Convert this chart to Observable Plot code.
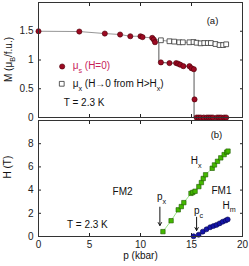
<!DOCTYPE html>
<html><head><meta charset="utf-8">
<script src="https://cdn.jsdelivr.net/npm/d3@7"></script>
<script src="https://cdn.jsdelivr.net/npm/@observablehq/plot@0.6"></script>
<style>body{margin:0;background:#fff;} #c{width:249px;} #c svg{display:block;}</style>
</head><body><div id="c"></div>
<script>
// ---------- data ----------
// panel (a): magnetization vs pressure
const upperRedP = [0, 4.0, 6.5, 8.0, 9.0, 10.0, 10.2, 11.15, 11.3, 11.42];
const upperRedM = [1.50, 1.495, 1.46, 1.443, 1.413, 1.413, 1.398, 1.385, 1.355, 1.31];
const lowerRedP = [12.0, 12.84, 13.5, 13.7, 13.9, 14.2, 14.8, 15.0, 15.23, 15.3];
const lowerRedM = [0.958, 0.946, 0.946, 0.935, 0.918, 0.893, 0.893, 0.858, 0.84, 0.315];
const zeroRedP = [15.5, 15.7, 15.9, 16.2, 16.5, 16.7, 16.9, 17.1, 17.5, 17.7, 17.9, 18.2, 18.4];
const zeroRedM = [0, 0, 0, 0, 0, 0, 0, 0, 0, 0, 0, 0, 0];
const squareP = [12.0, 12.84, 13.3, 13.8, 14.15, 14.8, 15.2, 15.5, 15.9, 16.25, 16.6, 16.9, 17.35, 17.75, 18.1, 18.4];
const squareM = [1.343, 1.326, 1.32, 1.308, 1.308, 1.308, 1.313, 1.30, 1.29, 1.295, 1.295, 1.295, 1.278, 1.26, 1.26, 1.273];
// guide lines drawn through the data
const upperGuideP = [0, 4.0, 6.5, 8.0, 9.0, 10.0, 10.2, 11.15, 11.8, 12.0, 12.84, 13.3, 13.8, 14.15, 14.8, 15.2, 15.5, 15.9, 16.25, 16.6, 16.9, 17.35, 17.75, 18.1, 18.4];
const upperGuideM = [1.50, 1.495, 1.46, 1.443, 1.413, 1.413, 1.398, 1.385, 1.345, 1.343, 1.326, 1.32, 1.308, 1.308, 1.308, 1.313, 1.30, 1.29, 1.295, 1.295, 1.295, 1.278, 1.26, 1.26, 1.273];
const dropGuideP = [11.8, 11.8, 12.0, 12.84, 13.5, 13.7, 13.9, 14.2, 14.8, 15.0, 15.23, 15.25, 15.25, 18.4];
const dropGuideM = [1.345, 0.958, 0.958, 0.946, 0.946, 0.935, 0.918, 0.893, 0.893, 0.858, 0.84, 0.84, 0, 0];

// panel (b): critical fields vs pressure
const hxP = [12.2, 13.0, 13.7, 14.0, 14.25, 14.95, 15.13, 15.35, 15.72, 15.97, 16.15, 16.38, 17.03, 17.25, 17.55, 17.87, 18.2, 18.45, 18.58];
const hxH = [0.42, 1.36, 2.3, 2.58, 2.92, 3.72, 3.8, 3.9, 4.3, 4.65, 5.0, 5.32, 5.88, 6.17, 6.48, 6.78, 7.06, 7.27, 7.36];
const hmP = [15.2, 15.7, 16.1, 16.47, 16.83, 17.15, 17.45, 17.75, 18.05, 18.35, 18.55];
const hmH = [0.02, 0.15, 0.42, 0.62, 0.8, 0.9, 1.0, 1.13, 1.27, 1.38, 1.47];

// ticks
const pTicks = [0, 5, 10, 15, 20];
const mTicks = [0, 0.5, 1, 1.5];
const hTicks = [0, 2, 4, 6, 8];

// annotation positions (data units)
const arrowP = [11.9, 15.5];
const arrowH1 = [2.53, 1.66];
const arrowH2 = [0.95, 0.52];

const zip = (xs, ys) => xs.map((x, i) => ({x, y: ys[i]}));
const font = "'Liberation Sans', Arial, Helvetica, sans-serif";
const RED = "#9c0a22", RED_EDGE = "#4a0008", PINK = "#c8245a";
const GREEN = "#44b800", GREEN_EDGE = "#1f5a00", BLUE = "#1414a8", BLUE_EDGE = "#05054a";

const common = {
  width: 249, marginLeft: 38, marginRight: 7,
  x: {domain: [0, 20]},
  style: {fontFamily: font, fontSize: "10px", color: "#222", background: "#fff", overflow: "visible"}
};

// ---------- panel (a) ----------
const pa = Plot.plot({
  ...common, height: 118, marginTop: 2, marginBottom: 1,
  y: {domain: [0, 2]},
  marks: [
    Plot.axisY(mTicks, {anchor: "left", tickSize: -3, fill: "none", label: null}),
    Plot.axisY(mTicks, {anchor: "left", tickSize: 0, tickPadding: 5, tickFormat: d => String(d), label: null}),
    Plot.axisY(mTicks, {anchor: "right", tickSize: -3, fill: "none", label: null}),
    Plot.axisX(pTicks, {anchor: "bottom", tickSize: -3, fill: "none", label: null}),
    Plot.axisX(pTicks, {anchor: "top", tickSize: -3, fill: "none", label: null}),
    Plot.line(zip(upperGuideP, upperGuideM), {x: "x", y: "y", stroke: "#8a8a8a", strokeWidth: 0.9}),
    Plot.line(zip(dropGuideP, dropGuideM), {x: "x", y: "y", stroke: "#444", strokeWidth: 0.9}),
    Plot.dot(zip(squareP, squareM), {x: "x", y: "y", symbol: "square", r: 2.7, fill: "#fff", stroke: "#333", strokeWidth: 0.8}),
    Plot.dot(zip(upperRedP, upperRedM), {x: "x", y: "y", r: 2.6, fill: RED, stroke: RED_EDGE, strokeWidth: 0.6}),
    Plot.dot(zip(lowerRedP, lowerRedM), {x: "x", y: "y", r: 2.6, fill: RED, stroke: RED_EDGE, strokeWidth: 0.6}),
    Plot.dot(zip(zeroRedP, zeroRedM), {x: "x", y: "y", r: 2.6, fill: RED, stroke: RED_EDGE, strokeWidth: 0.6}),
    // legend symbols
    Plot.dot([{x: 2.32, y: 0.887}], {x: "x", y: "y", r: 2.6, fill: RED, stroke: RED_EDGE, strokeWidth: 0.6}),
    Plot.dot([{x: 2.28, y: 0.586}], {x: "x", y: "y", symbol: "square", r: 2.7, fill: "#fff", stroke: "#333", strokeWidth: 0.8}),
    Plot.text(["T = 2.3 K"], {x: 2.48, y: 0.25, textAnchor: "start", fill: "#111"}),
    Plot.text(["(a)"], {x: 17.06, y: 1.687, fill: "#111", fontSize: 9.5}),
    Plot.frame({stroke: "#333", strokeWidth: 1})
  ]
});

// ---------- panel (b) ----------
const pb = Plot.plot({
  ...common, height: 148, marginTop: 2, marginBottom: 30,
  y: {domain: [0, 10]},
  marks: [
    Plot.axisY(hTicks, {anchor: "left", tickSize: -3, fill: "none", label: null}),
    Plot.axisY(hTicks, {anchor: "left", tickSize: 0, tickPadding: 5, label: null}),
    Plot.axisY(hTicks, {anchor: "right", tickSize: -3, fill: "none", label: null}),
    Plot.axisX(pTicks, {anchor: "bottom", tickSize: -3, fill: "none", label: null}),
    Plot.axisX(pTicks, {anchor: "bottom", tickSize: 0, tickPadding: 4, label: null}),
    Plot.axisX(pTicks, {anchor: "top", tickSize: -3, fill: "none", label: null}),
    Plot.line(zip(hxP, hxH), {x: "x", y: "y", stroke: "#8fe07a", strokeWidth: 0.9}),
    Plot.dot(zip(hxP, hxH), {x: "x", y: "y", symbol: "square", r: 2.5, fill: GREEN, stroke: GREEN_EDGE, strokeWidth: 0.6}),
    Plot.dot(zip(hmP, hmH), {x: "x", y: "y", r: 2.5, fill: BLUE, stroke: BLUE_EDGE, strokeWidth: 0.6}),
    Plot.arrow(arrowP.map((p, i) => ({p, h1: arrowH1[i], h2: arrowH2[i]})), {x1: "p", y1: "h1", x2: "p", y2: "h2", stroke: "#111", strokeWidth: 1, headLength: 5}),
    Plot.text(["T = 2.3 K"], {x: 4.8, y: 1.03, fill: "#111"}),
    Plot.text(["FM2"], {x: 8.24, y: 3.88, fill: "#111"}),
    Plot.text(["FM1"], {x: 17.94, y: 3.97, fill: "#111"}),
    Plot.text(["(b)"], {x: 17.45, y: 8.79, fill: "#111", fontSize: 9.5}),
    Plot.text(["p (kbar)"], {frameAnchor: "bottom", dy: 22, fill: "#111"}),
    Plot.text(["H (T)"], {frameAnchor: "left", dx: -31, rotate: -90, fill: "#111"}),
    Plot.frame({stroke: "#333", strokeWidth: 1})
  ]
});

const c = document.getElementById("c");
c.appendChild(pa);
c.appendChild(pb);

// labels with subscripts as real SVG text
function sublabel(svg, px, py, parts, {color = "#111", size = 10, rotate = 0, anchor = "start"} = {}) {
  const t = d3.select(svg).append("text")
    .attr("font-family", font).attr("font-size", size).attr("fill", color)
    .attr("text-anchor", anchor)
    .attr("transform", `translate(${px},${py}) rotate(${rotate})`)
    .attr("y", size * 0.35);
  let shift = 0;
  for (const [s, sub] of parts) {
    const want = sub ? 3.5 : 0;
    const ts = t.append("tspan").text(s).attr("dy", want - shift);
    if (sub) ts.attr("font-size", size * 0.72);
    shift = want;
  }
}
const ax = pa.scale("x"), ay = pa.scale("y");
const bx = pb.scale("x"), by = pb.scale("y");
sublabel(pa, ax.apply(3.4), ay.apply(0.887), [["μ"], ["s", true], [" (H=0)"]], {color: PINK});
sublabel(pa, ax.apply(3.4), ay.apply(0.574), [["μ"], ["x", true], [" (H→0 from H>H"], ["x", true], [")"]]);
sublabel(pa, 8, 59.5, [["M (μ"], ["B", true], ["/f.u.)"]], {rotate: -90, anchor: "middle"});
sublabel(pb, bx.apply(14.97), by.apply(6.49), [["H"], ["x", true]]);
sublabel(pb, bx.apply(18.1), by.apply(2.67), [["H"], ["m", true]]);
sublabel(pb, bx.apply(11.67), by.apply(3.39), [["p"], ["x", true]]);
sublabel(pb, bx.apply(15.29), by.apply(2.16), [["p"], ["c", true]]);
</script>
</body></html>
